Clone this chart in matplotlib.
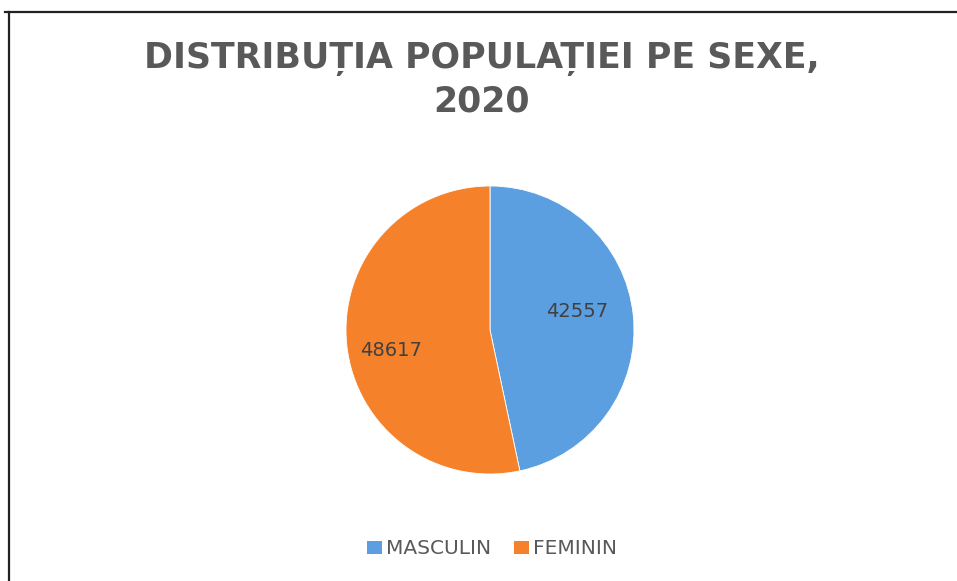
import matplotlib
matplotlib.use('Agg')
import matplotlib.pyplot as plt
import numpy as np
from matplotlib.patches import Patch
from matplotlib.lines import Line2D

# -------------------------------------------------------------
# DATA
# -------------------------------------------------------------
categories = ['MASCULIN', 'FEMININ']
values = [42557, 48617]
colors = ['#5B9FE0', '#F5822B']
title = 'DISTRIBUȚIA POPULAȚIEI PE SEXE,\n2020'

text_gray = '#595959'

fig = plt.figure(figsize=(9.57, 5.81), dpi=100)

# Frame lines (top and left only, as in the reference)
fig.add_artist(Line2D([5 / 957, 1], [1 - 11.5 / 581] * 2, color='#222222', lw=1.6))
fig.add_artist(Line2D([8.5 / 957] * 2, [0, 1 - 11.5 / 581], color='#222222', lw=1.6))

# Title
fig.text(0.503, 1 - 80 / 581, title, ha='center', va='center',
         fontsize=25, fontweight='bold', color=text_gray,
         linespacing=1.3, family='DejaVu Sans')

# -------------------------------------------------------------
# PIE
# -------------------------------------------------------------
r_px = 144
cx, cy = 490, 330
ax = fig.add_axes([(cx - r_px) / 957, 1 - (cy + r_px) / 581,
                   2 * r_px / 957, 2 * r_px / 581])

total = sum(values)
wedges, texts, autotexts = ax.pie(
    values, colors=colors, startangle=90, counterclock=False,
    autopct=lambda p: f'{round(p * total / 100):d}',
    pctdistance=0.66,
    wedgeprops=dict(edgecolor='white', linewidth=0.6),
    textprops=dict(fontsize=14, color='#404040'),
)

# Excel-like "best fit" label placement: nudge labels a little
for w, t, rad in zip(wedges, autotexts, [0.62, 0.70]):
    ang = np.deg2rad((w.theta1 + w.theta2) / 2 + 6)
    t.set_position((rad * np.cos(ang), rad * np.sin(ang)))

ax.set_aspect('equal')
ax.set_xlim(-1, 1)
ax.set_ylim(-1, 1)

# Legend
handles = [Patch(facecolor=c, edgecolor='none') for c in colors]
fig.legend(handles, categories, loc='center', bbox_to_anchor=(492 / 957, 1 - 549 / 581),
           ncol=2, frameon=False, fontsize=14.5, handlelength=0.75, handleheight=0.6,
           handletextpad=0.2, columnspacing=1.15, labelcolor=text_gray)

plt.savefig('out.png', dpi=100)
